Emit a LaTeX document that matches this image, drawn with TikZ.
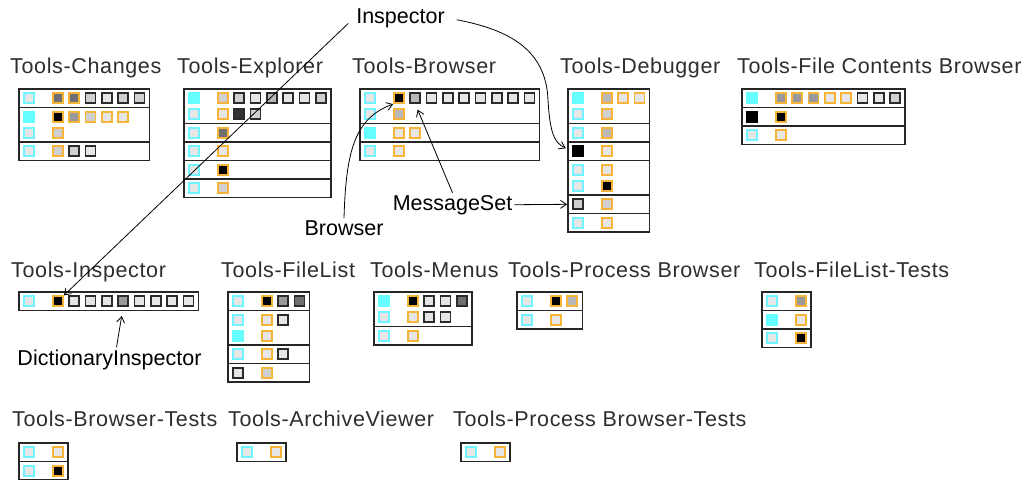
\documentclass[tikz,border=0pt]{standalone}
\usepackage{fontspec}
\setmainfont{Liberation Sans}
\newfontfamily\titlefont[LetterSpace=3]{Liberation Sans}
\usetikzlibrary{arrows.meta}
\definecolor{oc}{HTML}{F7B538}
\definecolor{bc}{HTML}{2B2B2B}
\definecolor{cb}{HTML}{6EF5FF}
\definecolor{cf}{HTML}{66FFFF}
\definecolor{ga}{HTML}{000000}
\definecolor{gz}{HTML}{333333}
\definecolor{gb}{HTML}{707070}
\definecolor{gc}{HTML}{999999}
\definecolor{gd}{HTML}{B8B8B8}
\definecolor{ge}{HTML}{D0D0D0}
\definecolor{gf}{HTML}{E6E6E6}
\definecolor{fc}{HTML}{262626}
\definecolor{tc}{HTML}{2E2E2E}
\tikzset{
  sq/.style={rectangle, minimum size=10pt, inner sep=0pt, line width=1.7pt},
  frame/.style={draw=fc, line width=1.6pt},
  title/.style={font=\titlefont\fontsize{21.5}{24}\selectfont, text=tc, inner sep=0pt, anchor=base west},
  lab/.style={font=\fontsize{21.5}{24}\selectfont, text=black, inner sep=2pt, anchor=base},
  arr/.style={draw=black, line width=0.8pt, -{Straight Barb[length=6pt,width=8pt]}},
}
% #1 row name, #2 local y, #3 class border, #4 class fill, #5 list border/fill
\newcommand\crow[5]{%
  \node[sq, draw=#3, fill=#4] (#1c0) at (10,#2) {};%
  \foreach \sqb/\sqf [count=\k] in {#5} {\node[sq, draw=\sqb, fill=\sqf] (#1c\k) at ({39+16.3*(\k-1)},#2) {};}%
}
% #1 ncols, #2 height, #3 separators
\newcommand\frm[3]{%
  \pgfmathsetmacro\W{49+16.3*(#1-1)}%
  \draw[frame] (0,0) rectangle (\W,#2);%
  \foreach \s in {#3} {\draw[frame] (0,\s) -- (\W,\s);}%
}
\newcommand\frmn[2]{%
  \pgfmathsetmacro\W{49+16.3*(#1-1)}%
  \draw[frame] (0,0) rectangle (\W,#2);%
}
\begin{document}
\begin{tikzpicture}[x=1pt,y=-1pt]
\useasboundingbox (0,0) rectangle (1024,479);
\fill[white] (0,0) rectangle (1024,479);

% titles
\node[title] (t1) at (10,73) {Tools-Changes};
\node[title] (t2) at (177,73) {Tools-Explorer};
\node[title] (t3) at (352,73) {Tools-Browser};
\node[title] (t4) at (560,73) {Tools-Debugger};
\node[title] (t5) at (737,73) {Tools-File Contents Browser};
\node[title] (t6) at (11,277) {Tools-Inspector};
\node[title] (t7) at (221,277) {Tools-FileList};
\node[title] (t8) at (370,277) {Tools-Menus};
\node[title] (t9) at (508,277) {Tools-Process Browser};
\node[title] (t10) at (754,277) {Tools-FileList-Tests};
\node[title] (t11) at (12,426) {Tools-Browser-Tests};
\node[title] (t12) at (228,426) {Tools-ArchiveViewer};
\node[title] (t13) at (453,426) {Tools-Process Browser-Tests};

% Tools-Changes
\begin{scope}[shift={(19,89)}, name prefix=ch-]
\frm{6}{71.5}{18.5,53}
\crow{r1}{9.25}{cb}{gf}{oc/gb, oc/gb, bc/ge, bc/gf, bc/ge, bc/ge}
\crow{r2}{27.75}{cf}{cf}{oc/ga, oc/gc, oc/ge, oc/gf, oc/gf}
\crow{r3}{43.75}{cb}{gf}{oc/ge}
\crow{r4}{62.25}{cb}{gf}{oc/ge, bc/ge, bc/gf}
\end{scope}

% Tools-Explorer
\begin{scope}[shift={(184,89)}, name prefix=ex-]
\frm{7}{108.5}{34.5,53,71.5,90}
\crow{r1}{9.25}{cf}{cf}{oc/ge, bc/ge, bc/gf, bc/gd, bc/gf, bc/gf, bc/ge}
\crow{r2}{25.25}{cb}{gf}{oc/gf, bc/gz, bc/ge}
\crow{r3}{43.75}{cb}{gf}{oc/gb}
\crow{r4}{62.25}{cb}{gf}{oc/gf}
\crow{r5}{80.75}{cb}{gf}{oc/ga}
\crow{r6}{99.25}{cb}{gf}{oc/ge}
\end{scope}

% Tools-Browser
\begin{scope}[shift={(360,89)}, name prefix=br-]
\frm{9}{71.5}{34.5,53}
\crow{r1}{9.25}{cb}{gf}{oc/ga, bc/gd, bc/gf, bc/gf, bc/gf, bc/gf, bc/gf, bc/gf, bc/gf}
\crow{r2}{25.25}{cb}{gf}{oc/gd}
\crow{r3}{43.75}{cf}{cf}{oc/gf, oc/gf}
\crow{r4}{62.25}{cb}{gf}{oc/gf}
\end{scope}

% Tools-Debugger
\begin{scope}[shift={(568,89)}, name prefix=db-]
\frm{3}{143}{34.5,53,71.5,106,124.5}
\crow{r1}{9.25}{cf}{cf}{oc/gd, oc/gf, oc/gf}
\crow{r2}{25.25}{cb}{gf}{oc/ge}
\crow{r3}{43.75}{cb}{gf}{oc/gd}
\crow{r4}{62.25}{ga}{ga}{oc/gf}
\crow{r5}{80.75}{cb}{gf}{oc/gf}
\crow{r6}{96.75}{cb}{gf}{oc/ga}
\crow{r7}{115.25}{bc}{ge}{oc/ge}
\crow{r8}{133.75}{cb}{gf}{oc/gf}
\end{scope}

% Tools-File Contents Browser
\begin{scope}[shift={(742,89)}, name prefix=fc-]
\frm{8}{55.5}{18.5,37}
\crow{r1}{9.25}{cf}{cf}{oc/gc, oc/gc, oc/gc, oc/gf, oc/gf, bc/gf, bc/gf, bc/ge}
\crow{r2}{27.75}{ga}{ga}{oc/ga}
\crow{r3}{46.25}{cb}{gf}{oc/gf}
\end{scope}

% Tools-Inspector
\begin{scope}[shift={(19,292)}, name prefix=in-]
\frmn{9}{18.5}
\crow{r1}{9.25}{cb}{gf}{oc/ga, bc/gf, bc/gf, bc/gf, bc/gc, bc/gf, bc/gf, bc/gf, bc/gf}
\end{scope}

% Tools-FileList
\begin{scope}[shift={(228,292)}, name prefix=fl-]
\frm{3}{90}{18.5,53,71.5}
\crow{r1}{9.25}{cb}{gf}{oc/ga, bc/gc, bc/gb}
\crow{r2}{27.75}{cb}{gf}{oc/gf, bc/gf}
\crow{r3}{43.75}{cf}{cf}{oc/gf}
\crow{r4}{62.25}{cb}{gf}{oc/gf, bc/gf}
\crow{r5}{80.75}{bc}{gf}{oc/ge}
\end{scope}

% Tools-Menus
\begin{scope}[shift={(374,292)}, name prefix=mn-]
\frm{4}{53}{34.5}
\crow{r1}{9.25}{cf}{cf}{oc/ga, bc/gf, bc/gf, bc/gb}
\crow{r2}{25.25}{cb}{gf}{oc/gf, bc/gf, bc/gf}
\crow{r3}{43.75}{cb}{gf}{oc/gf}
\end{scope}

% Tools-Process Browser
\begin{scope}[shift={(517,292)}, name prefix=pb-]
\frm{2}{37}{18.5}
\crow{r1}{9.25}{cb}{gf}{oc/ga, oc/gd}
\crow{r2}{27.75}{cb}{gf}{oc/gf}
\end{scope}

% Tools-FileList-Tests
\begin{scope}[shift={(762,292)}, name prefix=ft-]
\frm{1}{55.5}{18.5,37}
\crow{r1}{9.25}{cb}{gf}{oc/gc}
\crow{r2}{27.75}{cf}{cf}{oc/gf}
\crow{r3}{46.25}{cb}{gf}{oc/ga}
\end{scope}

% Tools-Browser-Tests
\begin{scope}[shift={(19,443)}, name prefix=bt-]
\frm{1}{37}{18.5}
\crow{r1}{9.25}{cb}{gf}{oc/gf}
\crow{r2}{27.75}{cb}{gf}{oc/ga}
\end{scope}

% Tools-ArchiveViewer
\begin{scope}[shift={(237,443)}, name prefix=av-]
\frmn{1}{18.5}
\crow{r1}{9.25}{cb}{gf}{oc/gf}
\end{scope}

% Tools-Process Browser-Tests
\begin{scope}[shift={(461,443)}, name prefix=pt-]
\frmn{1}{18.5}
\crow{r1}{9.25}{cb}{gf}{oc/gf}
\end{scope}

% labels
\node[lab] (insp) at (400.5,23) {Inspector};
\node[lab] (brw) at (344,235) {Browser};
\node[lab] (ms) at (452.5,210) {MessageSet};
\node[lab] (di) at (109.5,365) {DictionaryInspector};

% connectors
\draw[arr, shorten <=8pt] (insp.west) -- (in-r1c1.north east);
\draw[arr, shorten <=10pt, shorten >=7pt] (insp.east) .. controls (510,30) and (546,50) .. (548,100) .. controls (550,135) and (555,143) .. (db-r4c0.west);
\draw[arr] (brw.north) .. controls (346,150) and (355,118) .. (br-r1c1.south west);
\draw[arr, shorten >=6pt] (ms.north) -- (br-r1c2.south);
\draw[arr, shorten >=5pt] (ms.east) -- (db-r7c0.west);
\draw[arr, shorten >=9pt] ([xshift=7pt]di.north) -- (in-r1c5.south);
\end{tikzpicture}
\end{document}
